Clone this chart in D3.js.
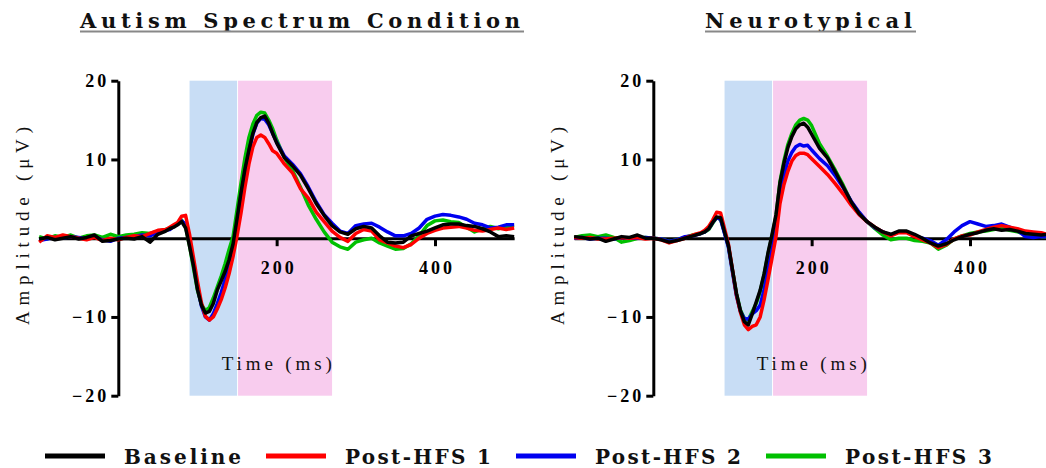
<!DOCTYPE html>
<html>
<head>
<meta charset="utf-8">
<script src="https://cdn.jsdelivr.net/npm/d3@7"></script>
<style>
  html, body { margin: 0; padding: 0; background: #fff; }
  svg { display: block; }
</style>
</head>
<body>
<svg id="chart" width="1046" height="468"></svg>
<script>
// Time samples (ms after stimulus onset)
const times = [-100,-90,-80,-70,-60,-50,-40,-30,-20,-10,0,10,20,30,40,50,60,
  65,70,75,80,85,90,95,100,105,110,115,120,125,130,135,140,145,150,155,160,165,170,175,180,185,190,195,200,
  210,220,230,240,250,260,270,280,290,300,310,320,330,340,350,360,370,380,390,400,410,420,430,440,450,460,470,480,490,500];

const conditions = ["Baseline", "Post-HFS 1", "Post-HFS 2", "Post-HFS 3"];
const panelTitles = ["Autism Spectrum Condition", "Neurotypical"];
const yTickValues = [-20, -10, 10, 20];
const xTickValues = [200, 400];
const earlyWindow = [90, 150];   // N1 window
const lateWindow = [150, 270];   // P2 window

// Autism Spectrum Condition, amplitude in µV
const ascBaseline = [-0.1,0.1,-0.2,0.0,0.2,-0.1,0.1,0.4,-0.4,-0.3,-0.1,0.0,-0.1,0.2,-0.5,0.5,0.9,
  1.2,1.4,1.7,2.1,1.3,-1.0,-3.5,-6.5,-8.5,-9.5,-9.3,-8.3,-6.6,-5.4,-4.2,-2.7,-0.7,2.5,5.8,8.8,11.2,13.3,14.7,15.3,15.5,14.6,13.3,12.1,
  10.2,9.2,8.0,6.3,4.4,2.9,1.6,0.8,0.5,1.2,1.5,1.3,0.3,-0.5,-0.6,-0.5,0.3,0.6,0.9,1.3,1.7,1.8,1.8,1.6,1.5,1.2,0.8,0.2,0.3,0.2];
const ascPost1 = [-0.5,0.3,0.1,0.4,0.2,0.0,-0.2,0.1,-0.3,0.0,-0.2,0.1,0.3,0.2,0.6,1.0,1.1,
  1.4,1.7,2.0,2.8,2.9,0.5,-2.5,-5.5,-8.2,-9.9,-10.4,-10.0,-9.0,-7.8,-6.3,-4.5,-2.3,0.3,3.2,6.5,9.4,11.6,12.8,13.1,12.8,12.0,11.1,10.8,
  9.4,8.3,6.3,5.1,3.3,2.1,0.9,0.1,-0.4,0.6,1.1,0.9,-0.2,-0.6,-1.0,-1.2,-0.8,0.0,0.6,1.0,1.3,1.4,1.5,1.3,1.0,0.9,1.1,1.3,1.1,1.3];
const ascPost2 = [-0.3,-0.1,0.1,0.0,0.2,0.1,-0.1,0.2,-0.2,-0.4,0.0,0.1,0.2,0.4,0.3,0.7,1.0,
  1.1,1.5,1.8,2.2,1.8,-0.5,-3.2,-6.2,-8.6,-10.0,-10.4,-9.6,-8.3,-6.9,-5.2,-3.6,-1.4,1.8,5.0,8.4,11.0,13.2,14.6,15.2,15.1,14.4,13.3,12.2,
  10.4,9.4,8.2,6.5,4.6,3.0,1.9,0.9,0.6,1.6,1.8,1.9,1.4,0.8,0.3,0.3,0.6,1.3,2.4,2.8,3.0,2.9,2.7,2.4,1.9,1.7,1.3,1.4,1.7,1.7];
const ascPost3 = [0.2,-0.1,0.3,0.1,0.4,0.0,0.3,0.4,0.1,0.5,0.2,0.4,0.5,0.7,0.6,0.9,1.1,
  1.2,1.6,1.9,2.3,1.5,-1.0,-3.8,-6.6,-8.4,-9.2,-8.8,-7.6,-6.2,-4.8,-3.2,-1.4,0.2,3.6,7.0,10.2,12.8,14.5,15.6,16.0,15.9,15.0,13.9,12.5,
  10.2,8.6,6.5,4.2,2.4,0.8,-0.5,-1.1,-1.4,-0.5,-0.2,0.0,-0.6,-1.0,-1.4,-1.3,-0.7,0.3,1.6,2.2,2.3,2.1,2.0,1.4,0.8,1.2,1.5,1.2,1.5,1.6];

// Neurotypical, amplitude in µV
const ntBaseline = [0.2,0.1,-0.1,0.0,-0.4,-0.1,0.2,0.1,0.4,0.0,0.0,-0.2,-0.5,-0.3,0.0,0.3,0.6,
  0.8,1.2,2.0,2.7,2.6,0.8,-1.0,-4.0,-7.0,-9.2,-10.6,-11.0,-9.6,-8.1,-6.6,-4.5,-1.8,0.5,3.0,7.0,9.5,11.5,12.9,13.9,14.4,14.6,14.1,13.2,
  11.4,10.2,8.4,6.5,4.6,3.1,2.1,1.4,0.8,0.5,0.9,0.9,0.5,0.0,-0.6,-1.0,-0.7,-0.2,0.2,0.5,0.7,1.0,1.2,1.0,1.1,0.9,0.6,0.5,0.4,0.5];
const ntPost1 = [0.1,0.0,0.1,-0.1,-0.1,0.0,0.1,0.0,0.1,-0.1,0.0,-0.2,-0.6,-0.3,0.0,0.4,0.7,
  1.0,1.5,2.3,3.3,3.2,1.2,-0.8,-4.0,-7.2,-9.4,-11.0,-11.6,-11.2,-11.0,-10.0,-7.8,-5.2,-2.5,0.2,4.4,6.8,8.5,9.8,10.5,10.8,10.8,10.6,10.1,
  9.1,8.1,6.9,5.6,4.2,3.0,2.1,1.4,0.8,0.3,0.7,0.7,0.2,-0.2,-0.6,-1.2,-0.8,-0.1,0.3,0.4,0.8,1.1,1.4,1.6,1.4,1.2,0.9,0.8,0.7,0.4];
const ntPost2 = [0.0,0.1,-0.1,0.0,0.0,-0.1,0.1,0.0,0.0,0.1,0.0,-0.1,-0.4,-0.2,0.2,0.3,0.6,
  0.8,1.2,2.0,2.6,2.4,0.6,-1.2,-4.3,-7.3,-9.3,-10.2,-10.3,-9.6,-9.2,-8.5,-6.5,-4.0,-1.5,1.0,5.7,8.0,9.8,10.9,11.6,11.9,11.7,11.8,11.2,
  10.1,9.2,7.9,6.4,4.7,3.3,2.1,1.3,0.8,0.4,0.8,0.8,0.3,0.0,-0.3,-0.9,-0.2,0.8,1.6,2.1,1.8,1.5,1.6,1.8,1.4,1.0,0.2,0.1,0.2,0.2];
const ntPost3 = [0.1,0.3,0.4,0.2,0.4,0.1,-0.5,-0.3,0.0,0.1,0.0,-0.1,-0.4,-0.2,0.1,0.4,0.6,
  0.8,1.1,1.9,2.6,2.4,0.7,-1.1,-4.1,-7.0,-9.1,-10.2,-10.4,-9.3,-8.3,-6.8,-4.6,-2.0,0.3,2.8,7.2,9.8,11.9,13.3,14.4,15.0,15.2,15.0,14.3,
  12.0,10.4,8.6,6.7,4.6,3.2,2.1,1.2,0.4,-0.2,0.0,0.0,-0.3,-0.4,-0.6,-1.4,-0.9,-0.1,0.3,0.6,0.8,0.9,1.1,1.3,1.0,0.8,0.5,0.3,0.2,0.2];

// ---- drawing ----
const colors = ["#000000", "#ff0000", "#0000f0", "#00c000"];
const drawOrder = [3, 2, 1, 0]; // baseline on top
const pxPerMs = 0.7917;
const serif = "'Liberation Serif', 'Times New Roman', serif";
const titleFont = "'DejaVu Serif', serif";

const svg = d3.select("#chart");

const panels = [
  { title: panelTitles[0], originX: 118.3, titleSpan: [80, 520], series: [ascBaseline, ascPost1, ascPost2, ascPost3] },
  { title: panelTitles[1], originX: 653.3, titleSpan: [705, 912], series: [ntBaseline, ntPost1, ntPost2, ntPost3] }
];

const y = d3.scaleLinear().domain([-20, 20]).range([395.7, 80.7]);

panels.forEach(p => {
  const x = d3.scaleLinear().domain([-100, 500])
    .range([p.originX - 100 * pxPerMs, p.originX + 500 * pxPerMs]);
  const g = svg.append("g");

  // analysis windows
  g.append("rect")
    .attr("x", x(earlyWindow[0])).attr("y", y(20))
    .attr("width", x(earlyWindow[1]) - x(earlyWindow[0]))
    .attr("height", y(-20) - y(20))
    .attr("fill", "#c8ddf5");
  g.append("rect")
    .attr("x", x(lateWindow[0]) + 1).attr("y", y(20))
    .attr("width", x(lateWindow[1]) - x(lateWindow[0]) - 1)
    .attr("height", y(-20) - y(20))
    .attr("fill", "#f8ccee");

  // axes
  const yAxis = g.append("g")
    .attr("transform", `translate(${x(0)},0)`)
    .call(d3.axisLeft(y).tickValues(yTickValues).tickSize(7).tickSizeOuter(0).tickPadding(2));
  const xAxis = g.append("g")
    .attr("transform", `translate(0,${y(0)})`)
    .call(d3.axisBottom(x).tickValues(xTickValues).tickSize(8).tickSizeOuter(0).tickPadding(15));

  [yAxis, xAxis].forEach(a => {
    a.select(".domain").attr("stroke", "#000").attr("stroke-width", 3);
    a.selectAll(".tick line").attr("stroke", "#000").attr("stroke-width", 3);
    a.selectAll(".tick text")
      .attr("fill", "#000")
      .style("font-family", serif)
      .style("font-weight", "bold")
      .style("font-size", "18px")
      .style("letter-spacing", "3px");
  });
  xAxis.selectAll(".tick text").attr("dx", 1.5);

  // waveforms
  const line = d3.line().x((d, i) => x(times[i])).y(d => y(d));
  drawOrder.forEach(si => {
    g.append("path")
      .datum(p.series[si])
      .attr("d", line)
      .attr("fill", "none")
      .attr("stroke", colors[si])
      .attr("stroke-width", 3.5)
      .attr("stroke-linejoin", "round");
  });

  // axis titles
  g.append("text")
    .attr("x", x(0) + 103.5).attr("y", 370)
    .attr("textLength", 110).attr("lengthAdjust", "spacing")
    .style("font-family", serif).style("font-size", "19px")
    .attr("fill", "#111")
    .text("Time (ms)");
  g.append("text")
    .attr("transform", `translate(${x(0) - 89.5},226) rotate(-90)`)
    .attr("text-anchor", "middle")
    .attr("textLength", 198).attr("lengthAdjust", "spacing")
    .style("font-family", serif).style("font-size", "19px")
    .attr("fill", "#111")
    .text("Amplitude (μV)");

  // panel title with underline
  g.append("text")
    .attr("x", p.titleSpan[0]).attr("y", 27.5)
    .attr("textLength", p.titleSpan[1] - p.titleSpan[0]).attr("lengthAdjust", "spacing")
    .style("font-family", titleFont).style("font-weight", "bold").style("font-size", "21px")
    .attr("fill", "#111")
    .text(p.title);
  g.append("line")
    .attr("x1", p.titleSpan[0]).attr("x2", p.titleSpan[1] + 4)
    .attr("y1", 31.5).attr("y2", 31.5)
    .attr("stroke", "#888").attr("stroke-width", 2);
});

// legend
const legendTextWidths = [117, 146, 146, 147];
let lx = 45;
const legend = svg.append("g");
conditions.forEach((c, i) => {
  legend.append("line")
    .attr("x1", lx).attr("x2", lx + 60)
    .attr("y1", 456).attr("y2", 456)
    .attr("stroke", colors[i]).attr("stroke-width", 5);
  legend.append("text")
    .attr("x", lx + 79).attr("y", 464)
    .attr("textLength", legendTextWidths[i]).attr("lengthAdjust", "spacing")
    .style("font-family", titleFont).style("font-weight", "bold").style("font-size", "20px")
    .attr("fill", "#111")
    .text(c);
  lx += 79 + legendTextWidths[i] + 25;
});
</script>
</body>
</html>
